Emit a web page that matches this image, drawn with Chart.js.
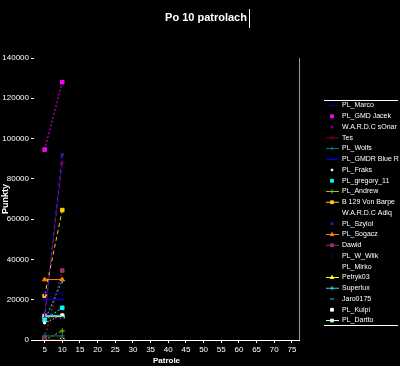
<!DOCTYPE html>
<html lang="pl">
<head>
<meta charset="UTF-8" />
<title>Po 10 patrolach</title>
<script src="https://cdn.jsdelivr.net/npm/chart.js"></script>
<style>
  html, body { margin: 0; padding: 0; background: #000; }
  #wrap { width: 400px; height: 366px; }
</style>
</head>
<body>
<div id="wrap"><canvas id="chart" width="400" height="366"></canvas></div>
<script>
// patrol numbers (x) and points after each
const patrols = [5, 10];
const xTicks = [5, 10, 15, 20, 25, 30, 35, 40, 45, 50, 55, 60, 65, 70, 75];
const yTicks = [0, 20000, 40000, 60000, 80000, 100000, 120000, 140000];

const players = [
  "PL_Marco", "PL_GMD Jacek", "W.A.R.D.C sOnar", "Tes", "PL_Wolfs",
  "PL_GMDR Blue R", "PL_Fraks", "PL_gregory_11", "PL_Andrew", "B 129 Von Barpe",
  "W.A.R.D.C Adiq", "PL_Szylol", "PL_Sogacz", "Dawid", "PL_W_Wilk",
  "PL_Mirko", "Petryk03", "Superlux", "Jaro0175", "PL_Kulpi", "PL_Dartto"
];

const marco = [23000, 23000];
const jacek = [94500, 128000];
const sonar = [13000, 88000];
const tes = [0, 0];
const wolfs = [2000, 2000];
const blueR = [20000, 20000];
const fraks = [8500, 12500];
const gregory = [10000, 16000];
const andrew = [0, 4500];
const barpe = [22000, 64500];
const adiq = [0, 0];
const szylol = [10500, 92000];
const sogacz = [30000, 30000];
const dawid = [1000, 34500];
const wilk = [11000, 11000];
const mirko = [0, 0];
const petryk = [11500, 11500];
const superlux = [9500, 29500];
const jaro = [12000, 12000];
const kulpi = [12000, 12000];
const dartto = [0, 0];

const seriesValues = [marco, jacek, sonar, tes, wolfs, blueR, fraks, gregory, andrew, barpe,
  adiq, szylol, sogacz, dawid, wilk, mirko, petryk, superlux, jaro, kulpi, dartto];

// colour, dash, marker, whether the legend shows a line sample
const styles = [
  ["#000080", [], "cross", true],
  ["#ff00ff", [2, 2], "rect", false],
  ["#800080", [4, 3], "cross", false],
  ["#800000", [], "cross", true],
  ["#008080", [], "cross", true],
  ["#0000ff", [], "line", true],
  ["#ffffff", [1, 2], "circle", false],
  ["#00ffff", [2, 2], "rect", false],
  ["#99cc00", [2, 2], "cross", true],
  ["#ffcc00", [4, 3], "rect", true],
  ["#000000", [], "circle", false],
  ["#3333ff", [4, 3], "crossRot", false],
  ["#ff8000", [], "triangle", true],
  ["#993366", [2, 2], "rect", true],
  ["#000080", [], "circle", false],
  ["#000000", [], "circle", false],
  ["#ffff00", [], "triangle", true],
  ["#33ccff", [2, 2], "cross", true],
  ["#00ccff", [], "line", false],
  ["#ffffff", [], "rect", false],
  ["#ccffcc", [], "rect", true]
];

const datasets = players.map((name, i) => {
  const [color, dash, marker, legendLine] = styles[i];
  return {
    label: name,
    data: patrols.map((p, j) => ({ x: p, y: seriesValues[i][j] })),
    borderColor: color,
    backgroundColor: color,
    borderWidth: 1,
    borderDash: dash,
    pointStyle: marker,
    pointRadius: marker === "circle" ? 1.2 : 2.5,
    pointBorderWidth: 1,
    legendLine: legendLine
  };
});

const font = "Liberation Sans";

// title + cursor bar, right frame line, custom legend
const decor = {
  id: "decor",
  afterDraw(chart) {
    const c = chart.ctx;
    const a = chart.chartArea;
    c.save();
    c.fillStyle = "#fff";
    c.font = "bold 11px " + font;
    c.textAlign = "center";
    c.textBaseline = "middle";
    const t = "Po 10 patrolach";
    c.fillText(t, 206, 18);
    const tw = c.measureText(t).width;
    c.fillRect(Math.round(206 + tw / 2 + 2), 9, 1, 19);

    c.strokeStyle = "#999";
    c.lineWidth = 1;
    c.beginPath();
    c.moveTo(a.right + 0.5, a.top);
    c.lineTo(a.right + 0.5, a.bottom);
    c.stroke();

    // legend
    const lx = 324, top = 100, step = 10.75;
    c.strokeStyle = "#fff";
    c.beginPath();
    c.moveTo(lx, top + 0.5); c.lineTo(398, top + 0.5);
    c.moveTo(lx, top + 225.5); c.lineTo(398, top + 225.5);
    c.stroke();
    c.font = "7px " + font;
    c.textAlign = "left";
    chart.data.datasets.forEach((ds, i) => {
      const y = top + 5.5 + i * step;
      if (ds.legendLine) {
        c.strokeStyle = ds.borderColor;
        c.beginPath();
        c.moveTo(lx + 2, y); c.lineTo(lx + 15, y);
        c.stroke();
      }
      c.fillStyle = ds.backgroundColor;
      c.strokeStyle = ds.borderColor;
      Chart.helpers.drawPoint(c, { pointStyle: ds.pointStyle, radius: ds.pointStyle === "circle" ? 1 : 2, borderWidth: 1, rotation: 0 }, lx + 8, y);
      c.fillStyle = "#fff";
      c.fillText(ds.label, 342, y);
    });
    c.restore();
  }
};

new Chart(document.getElementById("chart"), {
  type: "line",
  data: { datasets: datasets },
  plugins: [decor],
  options: {
    responsive: false,
    animation: false,
    layout: { padding: { top: 58, right: 101, left: 0, bottom: 0 } },
    plugins: { legend: { display: false }, title: { display: false }, tooltip: { enabled: false } },
    scales: {
      x: {
        type: "linear",
        min: 2,
        max: 77,
        afterBuildTicks: (s) => { s.ticks = xTicks.map(v => ({ value: v })); },
        afterFit: (s) => { s.height = 26; },
        grid: { drawOnChartArea: false, color: "#fff", tickLength: 3 },
        border: { color: "#fff", width: 1 },
        ticks: { color: "#fff", font: { family: font, size: 8 }, padding: 2, maxRotation: 0, autoSkip: false },
        title: { display: true, text: "Patrole", color: "#fff", font: { family: font, size: 8, weight: "bold" }, padding: 0 }
      },
      y: {
        min: 0,
        max: 140000,
        afterBuildTicks: (s) => { s.ticks = yTicks.map(v => ({ value: v })); },
        afterFit: (s) => { s.width = 34; },
        grid: { drawOnChartArea: false, color: "#fff", tickLength: 3 },
        border: { display: false },
        ticks: { color: "#fff", font: { family: font, size: 8 }, padding: 2, callback: (v) => String(v) },
        title: { display: true, text: "Punkty", color: "#fff", font: { family: font, size: 9, weight: "bold" }, padding: 0 }
      }
    }
  }
});
</script>
</body>
</html>
